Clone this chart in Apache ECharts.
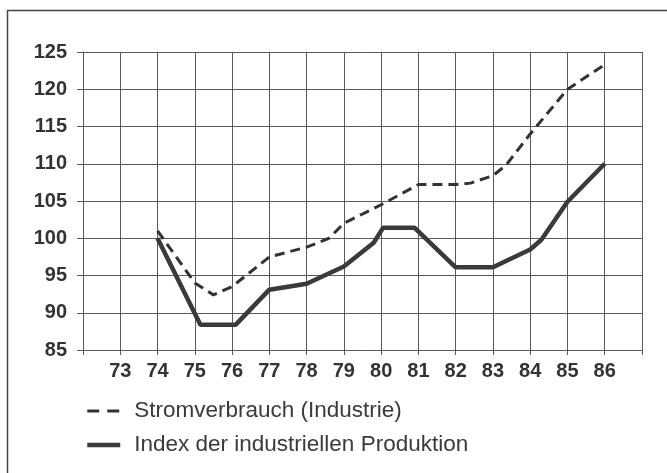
<!DOCTYPE html>
<html>
<head>
<meta charset="utf-8">
<script src="https://cdn.jsdelivr.net/npm/echarts@6/dist/echarts.min.js"></script>
<style>
html,body{margin:0;padding:0;background:#fff;}
#chart{width:667px;height:473px;}
</style>
</head>
<body>
<div id="chart"></div>
<script>
// Tick labels (years) shown on the x axis
const yearLabels = [73, 74, 75, 76, 77, 78, 79, 80, 81, 82, 83, 84, 85, 86];
// Y axis tick values
const yTicks = [85, 90, 95, 100, 105, 110, 115, 120, 125];

// Series names
const nameStrom = 'Stromverbrauch (Industrie)';
const nameProd = 'Index der industriellen Produktion';

// Stromverbrauch (Industrie) - dashed line (x = year, y = index)
const stromX = [74, 75, 75.5, 76, 77, 78, 78.6, 79, 80, 81, 82, 82.4, 83, 83.35, 84, 85, 86];
const stromY = [101, 94, 92.4, 93.5, 97.5, 98.8, 100, 102, 104.5, 107.2, 107.2, 107.4, 108.4, 109.8, 114, 120, 123.3];

// Index der industriellen Produktion - solid line
const prodX = [74, 75.15, 76.1, 77, 78, 79, 79.8, 80.05, 80.9, 82, 83, 84, 84.3, 85, 86];
const prodY = [100, 88.4, 88.4, 93.1, 93.9, 96.2, 99.4, 101.4, 101.4, 96.1, 96.1, 98.5, 99.8, 104.9, 110];

const pairs = (xs, ys) => xs.map((x, i) => [x, ys[i]]);

const chart = echarts.init(document.getElementById('chart'), null, {renderer: 'canvas'});
const ink = '#333333';
const gridCol = '#5a5a5a';

chart.setOption({
  backgroundColor: '#ffffff',
  animation: false,
  graphic: [{
    type: 'rect',
    shape: {x: 7.5, y: 10.5, width: 700, height: 500},
    style: {fill: 'none', stroke: '#444', lineWidth: 1.5},
    silent: true
  }],
  grid: {left: 83, right: 25, top: 52, bottom: 123},
  legend: {
    orient: 'vertical',
    left: 80,
    top: 394,
    itemWidth: 33,
    itemHeight: 14,
    itemGap: 10,
    itemStyle: {opacity: 0},
    data: [
      {name: nameStrom, lineStyle: {color: '#333', width: 3, type: [12, 8]}},
      {name: nameProd, lineStyle: {color: '#3a3a3a', width: 4.5, type: 'solid'}}
    ],
    textStyle: {
      fontFamily: 'Liberation Sans, Arial, sans-serif',
      fontSize: 22.5,
      lineHeight: 24,
      color: '#3a3a3a',
      padding: [0, 0, 0, 9]
    }
  },
  xAxis: {
    type: 'value',
    min: 72,
    max: 87,
    interval: 1,
    axisLine: {show: true, lineStyle: {color: gridCol, width: 1}},
    axisTick: {show: true, inside: false, length: 5, lineStyle: {color: gridCol}},
    splitLine: {show: true, lineStyle: {color: gridCol, width: 1}},
    axisLabel: {
      margin: 11,
      fontFamily: 'Liberation Sans, Arial, sans-serif',
      fontSize: 20,
      fontWeight: 'bold',
      color: ink,
      formatter: v => (yearLabels.indexOf(v) >= 0 ? String(v) : '')
    }
  },
  yAxis: {
    type: 'value',
    min: 85,
    max: 125,
    interval: 5,
    axisLine: {show: true, lineStyle: {color: gridCol, width: 1}},
    axisTick: {show: true, inside: false, length: 6, lineStyle: {color: gridCol}},
    splitLine: {show: true, lineStyle: {color: gridCol, width: 1}},
    axisLabel: {
      margin: 16,
      fontFamily: 'Liberation Sans, Arial, sans-serif',
      fontSize: 20,
      fontWeight: 'bold',
      color: ink,
      padding: [0, 0, 11, 0],
      formatter: v => (yTicks.indexOf(v) >= 0 ? String(v) : '')
    }
  },
  series: [
    {
      name: nameStrom,
      type: 'line',
      data: pairs(stromX, stromY),
      symbol: 'none',
      color: '#333',
      lineStyle: {color: '#333', width: 3, type: [10, 6]}
    },
    {
      name: nameProd,
      type: 'line',
      data: pairs(prodX, prodY),
      symbol: 'none',
      color: '#3a3a3a',
      lineStyle: {color: '#3a3a3a', width: 4.5, type: 'solid'}
    }
  ]
});
</script>
</body>
</html>
